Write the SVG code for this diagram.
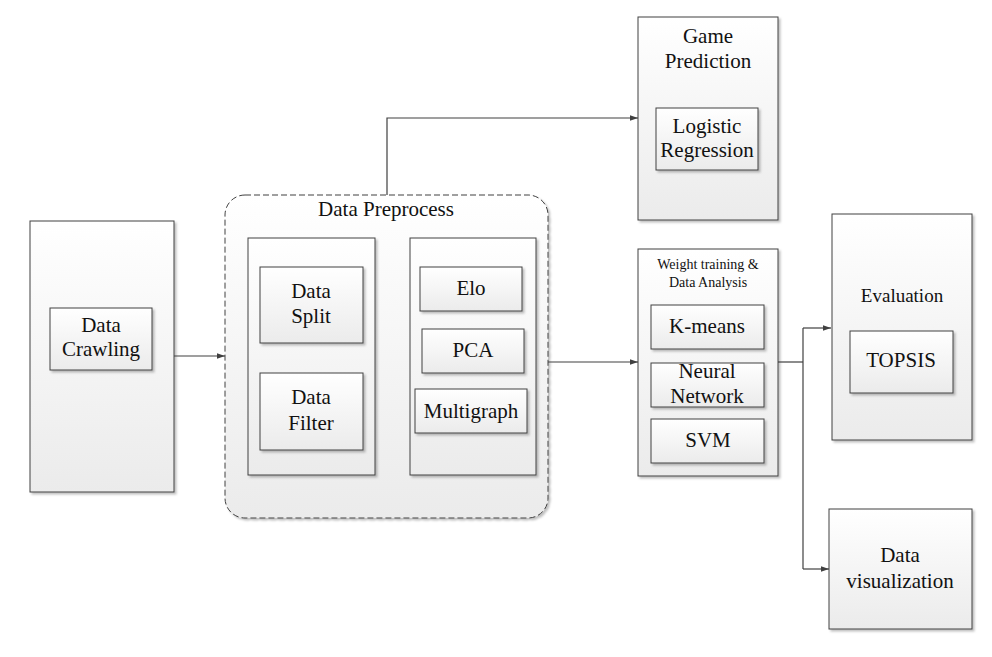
<svg xmlns="http://www.w3.org/2000/svg" width="992" height="657" viewBox="0 0 992 657" font-family="Liberation Serif, serif">
<defs>
<linearGradient id="g" x1="0" y1="0" x2="0" y2="1">
<stop offset="0" stop-color="#ffffff"/>
<stop offset="1" stop-color="#ebebeb"/>
</linearGradient>
<filter id="sh" x="-10%" y="-10%" width="130%" height="130%">
<feDropShadow dx="2" dy="2" stdDeviation="0.8" flood-color="#000" flood-opacity="0.25"/>
</filter>
<marker id="arr" markerWidth="8" markerHeight="6" refX="8" refY="3" orient="auto" markerUnits="userSpaceOnUse">
<path d="M0,0.3 L8,3 L0,5.7 Z" fill="#404040"/>
</marker>
<style>
.box{fill:url(#g);stroke:#404040;stroke-width:1;filter:url(#sh)}
.dash{fill:url(#g);stroke:#404040;stroke-width:1;stroke-dasharray:6 3;filter:url(#sh)}
.t{font-size:21px;fill:#111;text-anchor:middle}
.s{font-size:14px}
.e{font-size:19px}
.c{fill:none;stroke:#404040;stroke-width:1.2}
</style>
</defs>
<rect width="992" height="657" fill="#ffffff"/>

<g id="crawling">
<rect class="box" x="30" y="221" width="144" height="271"/>
<rect class="box" x="50" y="308" width="102" height="62"/>
<text class="t" x="101" y="332" font-family="Liberation Serif, serif">Data</text>
<text class="t" x="101" y="356" font-family="Liberation Serif, serif">Crawling</text>
</g>

<g id="preprocess">
<rect class="dash" x="225" y="195" width="323" height="323" rx="20" ry="20"/>
<text class="t" x="386" y="216" font-family="Liberation Serif, serif">Data Preprocess</text>
</g>
<g id="left-group">
<rect class="box" x="248" y="238" width="127" height="237"/>
</g>
<g id="split">
<rect class="box" x="260" y="267" width="103" height="76"/>
<text class="t" x="311" y="298" font-family="Liberation Serif, serif">Data</text>
<text class="t" x="311" y="323" font-family="Liberation Serif, serif">Split</text>
</g>
<g id="filter">
<rect class="box" x="260" y="373" width="103" height="77"/>
<text class="t" x="311" y="404" font-family="Liberation Serif, serif">Data</text>
<text class="t" x="311" y="430" font-family="Liberation Serif, serif">Filter</text>
</g>
<g id="right-group">
<rect class="box" x="410" y="238" width="126" height="237"/>
</g>
<g id="elo">
<rect class="box" x="420" y="267" width="102" height="44"/>
<text class="t" x="471" y="295" font-family="Liberation Serif, serif">Elo</text>
</g>
<g id="pca">
<rect class="box" x="422" y="329" width="102" height="44"/>
<text class="t" x="473" y="357" font-family="Liberation Serif, serif">PCA</text>
</g>
<g id="multigraph">
<rect class="box" x="415" y="389" width="112" height="44"/>
<text class="t" x="471" y="418" font-family="Liberation Serif, serif">Multigraph</text>
</g>

<g id="game">
<rect class="box" x="638" y="17" width="140" height="203"/>
<text class="t" x="708" y="43" font-family="Liberation Serif, serif">Game</text>
<text class="t" x="708" y="68" font-family="Liberation Serif, serif">Prediction</text>
</g>
<g id="logistic">
<rect class="box" x="656" y="108" width="102" height="62"/>
<text class="t" x="707" y="133" font-family="Liberation Serif, serif">Logistic</text>
<text class="t" x="707" y="157" font-family="Liberation Serif, serif">Regression</text>
</g>

<g id="weight">
<rect class="box" x="638" y="249" width="140" height="227"/>
<text class="t s" x="708" y="269" font-family="Liberation Serif, serif">Weight training &amp;</text>
<text class="t s" x="708" y="287" font-family="Liberation Serif, serif">Data Analysis</text>
</g>
<g id="kmeans">
<rect class="box" x="651" y="305" width="113" height="44"/>
<text class="t" x="707" y="333" font-family="Liberation Serif, serif">K-means</text>
</g>
<g id="neural">
<rect class="box" x="651" y="363" width="113" height="44"/>
<text class="t" x="707" y="378" font-family="Liberation Serif, serif">Neural</text>
<text class="t" x="707" y="403" font-family="Liberation Serif, serif">Network</text>
</g>
<g id="svm">
<rect class="box" x="651" y="419" width="113" height="44"/>
<text class="t" x="708" y="447" font-family="Liberation Serif, serif">SVM</text>
</g>

<g id="evaluation">
<rect class="box" x="832" y="214" width="140" height="226"/>
<text class="t e" x="902" y="302" font-family="Liberation Serif, serif">Evaluation</text>
</g>
<g id="topsis">
<rect class="box" x="850" y="331" width="103" height="62"/>
<text class="t" x="901" y="367" font-family="Liberation Serif, serif">TOPSIS</text>
</g>

<g id="visualization">
<rect class="box" x="829" y="509" width="143" height="120"/>
<text class="t" x="900" y="562" font-family="Liberation Serif, serif">Data</text>
<text class="t" x="900" y="588" font-family="Liberation Serif, serif">visualization</text>
</g>

<g id="connectors">
<path class="c" d="M174,356 H225" marker-end="url(#arr)"/>
<path class="c" d="M387,195 V118 H638" marker-end="url(#arr)"/>
<path class="c" d="M548,362 H638" marker-end="url(#arr)"/>
<path class="c" d="M778,362 H803"/>
<path class="c" d="M803,328 V569"/>
<path class="c" d="M803,328 H831" marker-end="url(#arr)"/>
<path class="c" d="M803,569 H829" marker-end="url(#arr)"/>
</g>
</svg>
